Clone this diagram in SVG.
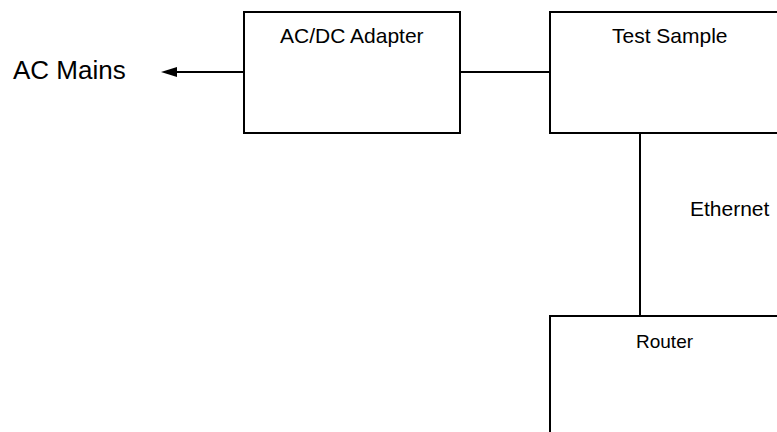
<svg xmlns="http://www.w3.org/2000/svg" width="777" height="432" viewBox="0 0 777 432">
<style>
.box{fill:#fff;stroke:#000;stroke-width:2}
.ln{fill:none;stroke:#000;stroke-width:2}
.t{font-family:"Liberation Sans",Arial,sans-serif;font-size:21px;fill:#000}
.big{font-size:26px}
.sm{font-size:19px}
</style>
<defs>
<marker id="arr" markerUnits="userSpaceOnUse" markerWidth="16" markerHeight="10" refX="0" refY="5" orient="auto">
<path d="M0,0 L16,5 L0,10 Z" fill="#000"/>
</marker>
</defs>
<rect width="777" height="432" fill="#fff"/>
<g id="connectors">
<line class="ln" x1="244" y1="72" x2="177" y2="72" marker-end="url(#arr)"/>
<line class="ln" x1="460" y1="72" x2="550" y2="72"/>
<line class="ln" x1="640" y1="133" x2="640" y2="316"/>
</g>
<g id="ac-mains">
<text class="t big" x="13" y="79">AC Mains</text>
</g>
<g id="adapter">
<rect class="box" x="244" y="12" width="216" height="121"/>
<text class="t" x="280" y="43">AC/DC Adapter</text>
</g>
<g id="test-sample">
<rect class="box" x="550" y="12" width="260" height="121"/>
<text class="t" x="612" y="43">Test Sample</text>
</g>
<g id="ethernet-label">
<text class="t" x="690" y="216">Ethernet</text>
</g>
<g id="router">
<rect class="box" x="550" y="316" width="260" height="140"/>
<text class="t sm" x="636" y="348">Router</text>
</g>
</svg>
